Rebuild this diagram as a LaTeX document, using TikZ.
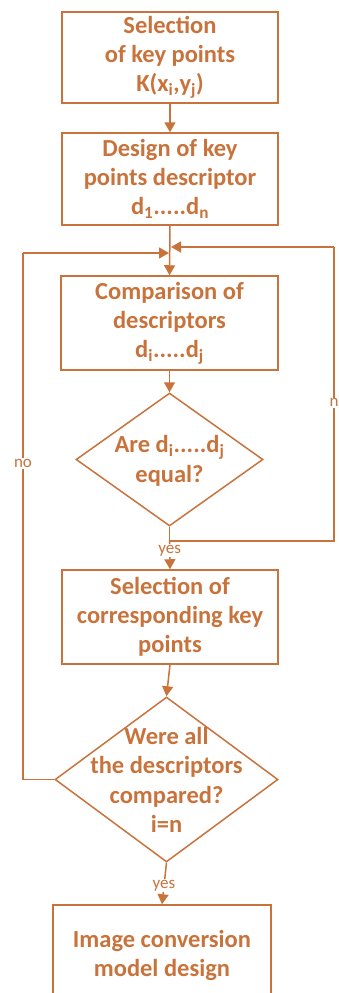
\documentclass[tikz,border=0pt]{standalone}
\usepackage{fontspec}
\setmainfont{Carlito}
\usetikzlibrary{shapes.geometric,arrows.meta}
\definecolor{fc}{RGB}{200,115,60}
\begin{document}
\begin{tikzpicture}[x=1pt,y=-1pt,
  every node/.style={text=fc},
  box/.style={draw=fc,line width=1.5pt,rectangle,inner sep=0pt,align=center,
    font=\bfseries\fontsize{24.5}{29}\selectfont},
  dia/.style={draw=fc,line width=1.5pt,diamond,inner sep=0pt},
  dtext/.style={align=center,inner sep=0pt,font=\bfseries\fontsize{24.5}{29.5}\selectfont},
  conn/.style={draw=fc,line width=1.5pt},
  arr/.style={conn,-{Triangle[length=10pt,width=11pt]}},
  lab/.style={font=\fontsize{17}{19}\selectfont,fill=white,inner sep=1pt}]
\useasboundingbox (0,0) rectangle (339,993);
\clip (0,0) rectangle (339,993);
\node[box,minimum width=216pt,minimum height=91pt] (b1) at (170,57.5)
  {Selection\\of key points\\K(x\textsubscript{i},y\textsubscript{j})};
\node[box,minimum width=216pt,minimum height=92pt] (b2) at (170,179)
  {Design of key\\points descriptor\\d\textsubscript{1}.....d\textsubscript{n}};
\node[box,minimum width=217pt,minimum height=94pt] (b3) at (169.5,323)
  {Comparison of\\descriptors\\d\textsubscript{i}.....d\textsubscript{j}};
\node[dia,minimum width=187pt,minimum height=133pt] (d1) at (169.5,459.5) {};
\node[dtext] (d1t) at (169.5,461) {Are d\textsubscript{i}.....d\textsubscript{j}\\equal?};
\node[box,minimum width=216pt,minimum height=94pt] (b4) at (170,617)
  {Selection of\\corresponding key\\points};
\node[dia,minimum width=223pt,minimum height=165pt] (d2) at (166.5,779.5) {};
\node[dtext] (d2t) at (166.5,780) {Were all\\the descriptors\\compared?\\i=n};
\node[box,minimum width=218pt,minimum height=100pt] (b5) at (162,955)
  {Image conversion\\model design};

\coordinate (rb) at (169.5,541);
\coordinate (rr) at (334,541);
\coordinate (rt) at (334,247);
\coordinate (re) at (171,247);
\coordinate (ll) at (23,779.5);
\coordinate (lt) at (23,253);
\coordinate (le) at (169,253);

\draw[arr] (b1.south) -- (b2.north);
\draw[arr] (b2.south) -- (b3.north);
\draw[arr] (b3.south) -- (d1.north);
\draw[conn] (d1.south) -- (rb) -- (rr) -- (rt) node[lab,pos=0.47] (nl) {n};
\draw[arr] (rt) -- (re);
\draw[arr] (rb) -- (b4.north) node[lab,pos=0.35] (y1) {yes};
\draw[arr] (b4.south) -- (d2.north);
\draw[conn] (d2.west) -- (ll) -- (lt) node[lab,pos=0.6] (nol) {no};
\draw[arr] (lt) -- (le);
\draw[arr] (d2.south) -- (b5.north) node[lab,pos=0.55] (y2) {yes};
\end{tikzpicture}
\end{document}
